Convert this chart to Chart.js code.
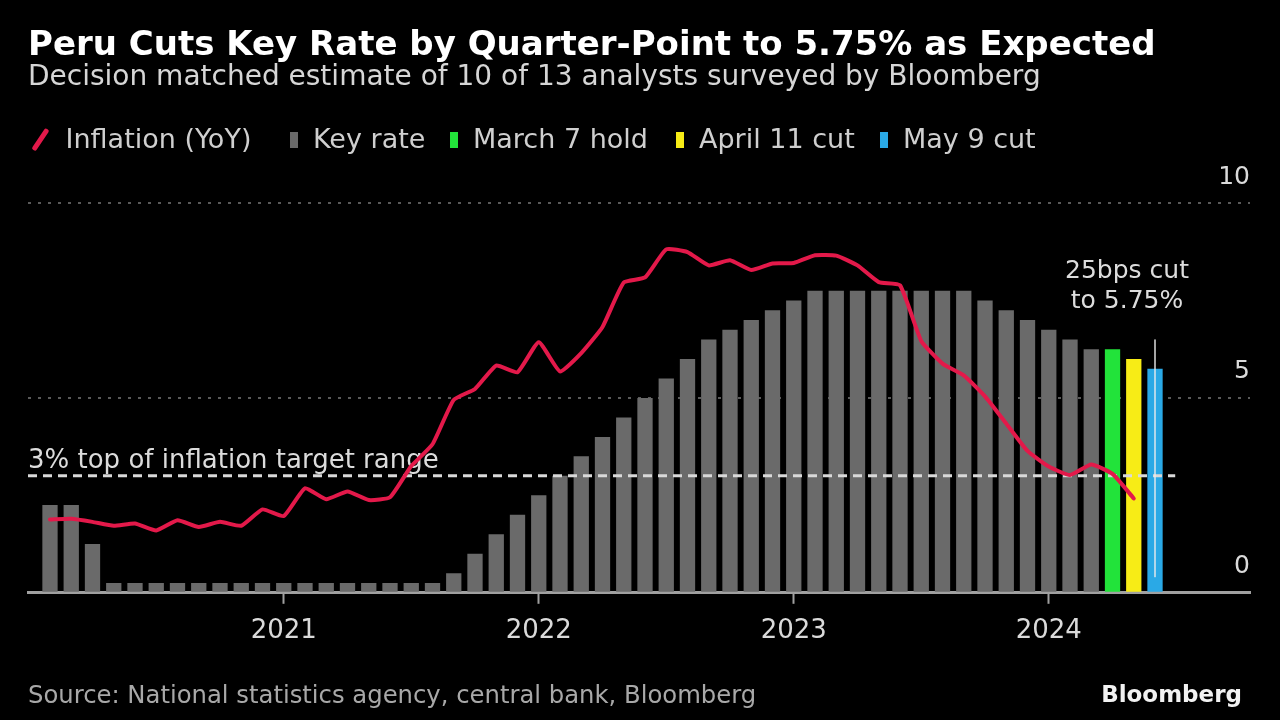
<!DOCTYPE html>
<html>
<head>
<meta charset="utf-8">
<script src="https://cdn.jsdelivr.net/npm/chart.js@4.4.1/dist/chart.umd.min.js"></script>
<style>
  html, body { margin: 0; padding: 0; background: #000; }
  #wrap { position: relative; width: 1280px; height: 720px; overflow: hidden; font-family: 'DejaVu Sans', sans-serif; }
  #chart { position: absolute; left: 0; top: 0; }
  .txt { position: absolute; white-space: nowrap; }
  #title { left: 28px; top: 23px; font: bold 34px/40px 'DejaVu Sans', sans-serif; color: #fff; }
  #subtitle { left: 28px; top: 59px; font-size: 28px; line-height: 34px; color: #d6d6d6; }
  #legend { left: 0; top: 122px; width: 1280px; height: 34px; font-size: 27px; line-height: 34px; color: #cfcfcf; }
  #legend .item { position: absolute; top: 0; display: flex; align-items: center; }
  #legend .box { width: 8px; height: 16px; margin-right: 15px; margin-top: 2px; }
  #legend .slash { width: 4.5px; height: 25px; margin: 0 23px 0 8px; transform: rotate(34deg); border-radius: 2px; }
  #source { left: 28px; top: 680px; font-size: 24.3px; line-height: 30px; color: #a8a8a8; }
  #brand { right: 38px; top: 680px; font: bold 23px/28px 'DejaVu Sans', sans-serif; color: #f2f2f2; }
</style>
</head>
<body>
<div id="wrap">
  <canvas id="chart" width="1280" height="720"></canvas>
  <div id="title" class="txt"></div>
  <div id="subtitle" class="txt"></div>
  <div id="legend" class="txt"></div>
  <div id="source" class="txt"></div>
  <div id="brand" class="txt">Bloomberg</div>
</div>
<script>
const titleText = 'Peru Cuts Key Rate by Quarter-Point to 5.75% as Expected';
const subtitleText = 'Decision matched estimate of 10 of 13 analysts surveyed by Bloomberg';
const sourceText = 'Source: National statistics agency, central bank, Bloomberg';

// monthly, Jan 2020 .. Apr 2024
const inflation = [
  1.88, 1.90, 1.82, 1.72, 1.78, 1.60, 1.86, 1.69, 1.82, 1.72, 2.14, 1.97,
  2.68, 2.40, 2.60, 2.38, 2.45, 3.25, 3.81, 4.95, 5.23, 5.83, 5.66, 6.43,
  5.68, 6.15, 6.82, 7.96, 8.09, 8.81, 8.74, 8.40, 8.53, 8.28, 8.45, 8.46,
  8.66, 8.65, 8.40, 7.97, 7.89, 6.46, 5.88, 5.58, 5.04, 4.34, 3.64, 3.24,
  3.02, 3.29, 3.05, 2.42
];

// monthly, Jan 2020 .. Feb 2024
const keyRate = [
  2.25, 2.25, 1.25, 0.25, 0.25, 0.25, 0.25, 0.25, 0.25, 0.25, 0.25, 0.25,
  0.25, 0.25, 0.25, 0.25, 0.25, 0.25, 0.25, 0.50, 1.00, 1.50, 2.00, 2.50,
  3.00, 3.50, 4.00, 4.50, 5.00, 5.50, 6.00, 6.50, 6.75, 7.00, 7.25, 7.50,
  7.75, 7.75, 7.75, 7.75, 7.75, 7.75, 7.75, 7.75, 7.50, 7.25, 7.00, 6.75,
  6.50, 6.25
];

// Mar, Apr, May 2024 decisions
const decisionNames = ['March 7 hold', 'April 11 cut', 'May 9 cut'];
const decisionRates = [6.25, 6.00, 5.75];
const decisionColors = ['#22e33a', '#f7ec16', '#2aa9e6'];

const yearTickIndex = [11, 23, 35, 47];
const yearTickLabels = ['2021', '2022', '2023', '2024'];
const yTicks = [0, 5, 10];

const targetRate = 3;
const targetLabel = '3% top of inflation target range';
const cutNoteLines = ['25bps cut', 'to 5.75%'];

const RED = '#e3194a';
const GREY = '#6a6a6a';

document.getElementById('title').textContent = titleText;
document.getElementById('subtitle').textContent = subtitleText;
document.getElementById('source').textContent = sourceText;

// legend (left edge of each entry)
const legendLeft = [30, 290, 450, 676, 880];
const legendItems = [
  { name: 'Inflation (YoY)', color: RED, line: true },
  { name: 'Key rate', color: GREY }
].concat(decisionNames.map((n, i) => ({ name: n, color: decisionColors[i] })));
const legendEl = document.getElementById('legend');
legendItems.forEach((it, i) => {
  const item = document.createElement('div');
  item.className = 'item';
  item.style.left = legendLeft[i] + 'px';
  const mark = document.createElement('div');
  mark.className = it.line ? 'slash' : 'box';
  mark.style.background = it.color;
  const label = document.createElement('span');
  label.textContent = it.name;
  item.appendChild(mark);
  item.appendChild(label);
  legendEl.appendChild(item);
});

const rateBars = keyRate.concat(decisionRates).map((v, i) => ({ x: i, y: v }));
const barColors = keyRate.map(() => GREY).concat(decisionColors);
const inflationPts = inflation.map((v, i) => ({ x: i, y: v }));
const lastBar = rateBars.length - 1;

const annotations = {
  id: 'annotations',
  afterDatasetDraw(chart, args) {
    if (args.index !== 0) return;
    const { ctx, chartArea } = chart;
    const x = chart.scales.x, y = chart.scales.y;
    ctx.save();

    // target line + label
    const yT = y.getPixelForValue(targetRate);
    ctx.strokeStyle = '#d9d9d9';
    ctx.lineWidth = 3;
    ctx.setLineDash([9, 6]);
    ctx.beginPath();
    ctx.moveTo(chartArea.left, yT);
    ctx.lineTo(x.getPixelForValue(lastBar + 0.95), yT);
    ctx.stroke();
    ctx.setLineDash([]);
    ctx.fillStyle = '#dcdcdc';
    ctx.font = '26px "DejaVu Sans"';
    ctx.textAlign = 'left';
    ctx.textBaseline = 'alphabetic';
    ctx.fillText(targetLabel, chartArea.left, yT - 8);

    // marker on latest cut
    const xm = x.getPixelForValue(lastBar);
    const yTop = y.getPixelForValue(6.5);
    ctx.strokeStyle = 'rgba(235,235,235,0.7)';
    ctx.lineWidth = 2;
    ctx.beginPath();
    ctx.moveTo(xm, yTop);
    ctx.lineTo(xm, y.getPixelForValue(0.4));
    ctx.stroke();
    ctx.font = '25px "DejaVu Sans"';
    ctx.textAlign = 'center';
    ctx.fillText(cutNoteLines[0], xm - 28, yTop - 61);
    ctx.fillText(cutNoteLines[1], xm - 28, yTop - 31);
    ctx.restore();
  }
};

new Chart(document.getElementById('chart'), {
  data: {
    datasets: [
      {
        type: 'bar',
        label: 'Key rate',
        data: rateBars,
        backgroundColor: barColors,
        categoryPercentage: 0.8,
        barPercentage: 0.9,
        order: 2
      },
      {
        type: 'line',
        label: 'Inflation (YoY)',
        data: inflationPts,
        borderColor: RED,
        borderWidth: 4,
        pointRadius: 0,
        tension: 0.15,
        borderJoinStyle: 'round',
        borderCapStyle: 'round',
        order: 1
      }
    ]
  },
  options: {
    responsive: false,
    devicePixelRatio: 1,
    animation: false,
    layout: { padding: { left: 28, right: 30, top: 203, bottom: 61 } },
    plugins: {
      legend: { display: false },
      tooltip: { enabled: false }
    },
    scales: {
      x: {
        type: 'linear',
        offset: false,
        bounds: 'data',
        min: -1.035,
        max: 56.47,
        afterBuildTicks: (scale) => { scale.ticks = yearTickIndex.map(v => ({ value: v })); },
        ticks: {
          callback: (v) => yearTickLabels[yearTickIndex.indexOf(v)] || '',
          color: '#dadada',
          font: { family: 'DejaVu Sans', size: 26 },
          padding: 12,
          maxRotation: 0,
          autoSkip: false
        },
        grid: {
          offset: false,
          drawOnChartArea: false,
          drawTicks: true,
          tickLength: 11,
          tickColor: '#a0a0a0',
          tickWidth: 2
        },
        border: { display: true, color: '#a0a0a0', width: 3 }
      },
      y: {
        position: 'right',
        min: 0,
        max: 10,
        afterBuildTicks: (scale) => { scale.ticks = yTicks.map(v => ({ value: v })); },
        ticks: {
          mirror: true,
          padding: 0,
          labelOffset: -26,
          color: '#dadada',
          font: { family: 'DejaVu Sans', size: 25 }
        },
        grid: {
          drawTicks: false,
          lineWidth: 2,
          color: (c) => (c.tick && c.tick.value === 0) ? 'rgba(0,0,0,0)' : '#5a5a5a'
        },
        border: { display: false, dash: [3, 7] }
      }
    }
  },
  plugins: [annotations]
});
</script>
</body>
</html>
